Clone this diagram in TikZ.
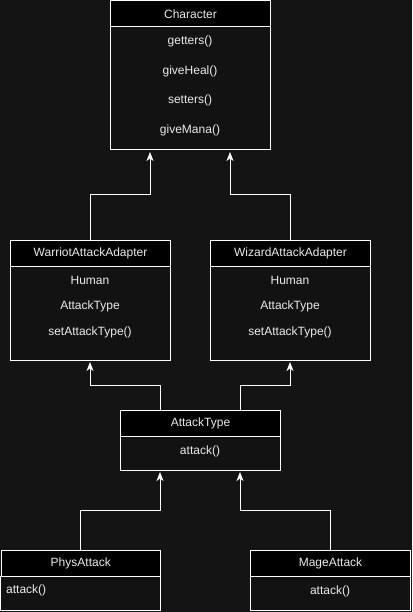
\documentclass[tikz,border=0pt]{standalone}
\usepackage{fontspec}
\setmainfont{Liberation Sans}
\usetikzlibrary{arrows.meta}
\definecolor{bg}{RGB}{20,20,20}
\definecolor{body}{RGB}{18,18,18}
\definecolor{txt}{RGB}{235,235,235}
\tikzset{
  x=1pt,y=-1pt,
  hdr/.style={draw=white,fill=black,line width=1pt,minimum height=26pt,inner sep=0pt,text=txt,font=\fontsize{12}{14}\selectfont},
  bodybox/.style={draw=white,fill=body,line width=1pt},
  lbl/.style={text=txt,font=\fontsize{12}{14}\selectfont,inner sep=0pt},
  conn/.style={draw=white,line width=1pt,-{Stealth[length=9pt,width=7pt,inset=2.5pt]},shorten >=2pt},
}
\begin{document}
\begin{tikzpicture}
\fill[bg] (0,0) rectangle (412,612);
\useasboundingbox (0,0) rectangle (412,612);
% Character
\draw[bodybox] (110,26) rectangle (270,150);
\node[hdr,minimum width=160pt,anchor=north west] (charH) at (110,0.5) {Character};
\coordinate (charB) at (110,150);
\node[lbl] (c1) at (190,41) {getters()};
\node[lbl] (c2) at (190,71) {giveHeal()};
\node[lbl] (c3) at (190,100) {setters()};
\node[lbl] (c4) at (190,130) {giveMana()};
\coordinate (charL) at (150,150);
\coordinate (charR) at (230,150);
% Warriot
\draw[bodybox] (10,266) rectangle (170,360);
\node[hdr,minimum width=160pt,anchor=north west] (warH) at (10,240) {WarriotAttackAdapter};
\node[lbl] (w1) at (90,280) {Human};
\node[lbl] (w2) at (90,306) {AttackType};
\node[lbl] (w3) at (90,332) {setAttackType()};
\coordinate (warB) at (90,360);
% Wizard
\draw[bodybox] (210,266) rectangle (370,360);
\node[hdr,minimum width=160pt,anchor=north west] (wizH) at (210,240) {WizardAttackAdapter};
\node[lbl] (z1) at (290,280) {Human};
\node[lbl] (z2) at (290,306) {AttackType};
\node[lbl] (z3) at (290,332) {setAttackType()};
\coordinate (wizB) at (290,360);
% AttackType
\draw[bodybox] (120,436) rectangle (280,470);
\node[hdr,minimum width=160pt,anchor=north west] (atH) at (120,410) {AttackType};
\node[lbl] (a1) at (200,451) {attack()};
\coordinate (atL) at (160,470);
\coordinate (atR) at (240,470);
% PhysAttack
\draw[bodybox] (0.5,576) rectangle (160,610);
\node[hdr,minimum width=159.5pt,anchor=north west] (phH) at (0.5,550) {PhysAttack};
\node[lbl,anchor=west] (p1) at (6,590) {attack()};
% MageAttack
\draw[bodybox] (250,576) rectangle (410,610);
\node[hdr,minimum width=160pt,anchor=north west] (maH) at (250,550) {MageAttack};
\node[lbl] (m1) at (330,591) {attack()};
% connectors
\draw[conn] (warH.north) |- (150,195) -- (charL);
\draw[conn] (wizH.north) |- (230,195) -- (charR);
\draw[conn] (atH.north west) ++(40,0) coordinate (atTL) |- (90,385) -- (warB);
\draw[conn] (atH.north west) ++(120,0) coordinate (atTR) |- (290,385) -- (wizB);
\draw[conn] (phH.north) |- (160,510) -- (atL);
\draw[conn] (maH.north) |- (240,510) -- (atR);
\end{tikzpicture}
\end{document}
